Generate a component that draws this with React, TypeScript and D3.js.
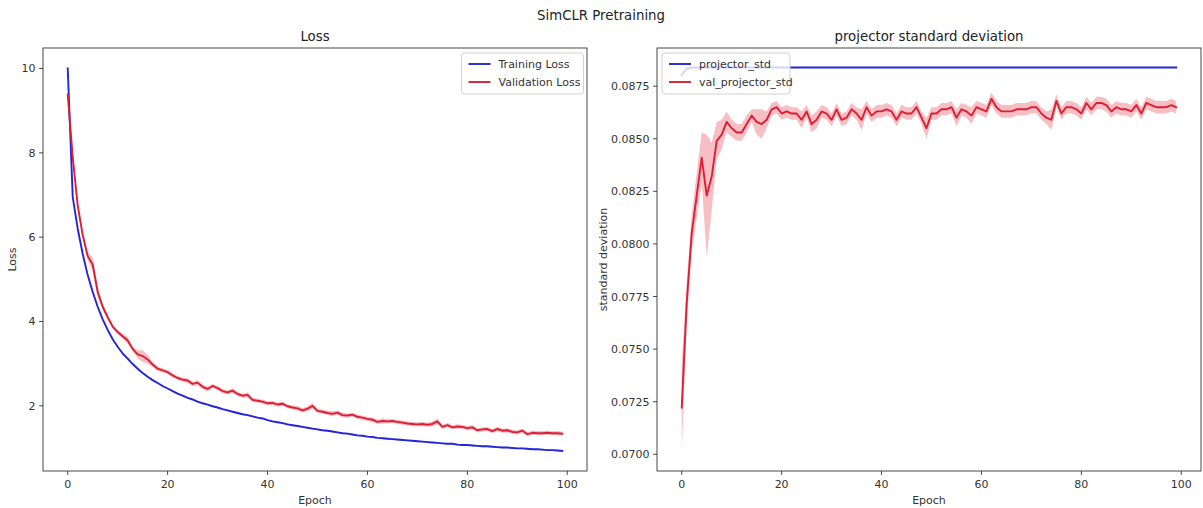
import React from "react";
import * as d3 from "d3";

const epochs: number[] = Array.from({ length: 100 }, (_, i) => i);

const trainLoss: number[] = [
  10.0, 6.95, 6.2, 5.6, 5.1, 4.7, 4.35, 4.05, 3.8, 3.58,
  3.4, 3.24, 3.12, 2.99, 2.88, 2.78, 2.69, 2.61, 2.54, 2.47,
  2.41, 2.35, 2.29, 2.24, 2.19, 2.15, 2.1, 2.06, 2.03, 1.99,
  1.96, 1.92, 1.89, 1.86, 1.83, 1.8, 1.78, 1.75, 1.72, 1.7,
  1.66, 1.63, 1.61, 1.59, 1.56, 1.54, 1.52, 1.5, 1.48, 1.46,
  1.44, 1.42, 1.41, 1.39, 1.37, 1.35, 1.34, 1.32, 1.3, 1.29,
  1.27, 1.26, 1.24, 1.23, 1.22, 1.21, 1.2, 1.19, 1.18, 1.17,
  1.16, 1.15, 1.14, 1.13, 1.12, 1.11, 1.1, 1.1, 1.08, 1.07,
  1.07, 1.06, 1.05, 1.04, 1.04, 1.03, 1.02, 1.01, 1.01, 1.0,
  0.99, 0.99, 0.98, 0.97, 0.97, 0.96, 0.95, 0.95, 0.94, 0.93,
];

const trainLossStd: number[] = [
  0.03, 0.03, 0.03, 0.02, 0.02, 0.02, 0.02, 0.02, 0.02, 0.02,
  0.02, 0.02, 0.02, 0.02, 0.02, 0.02, 0.02, 0.02, 0.02, 0.02,
  0.02, 0.02, 0.02, 0.02, 0.02, 0.02, 0.02, 0.02, 0.02, 0.02,
  0.02, 0.02, 0.02, 0.02, 0.02, 0.02, 0.02, 0.02, 0.02, 0.02,
  0.02, 0.02, 0.02, 0.02, 0.02, 0.02, 0.02, 0.02, 0.02, 0.02,
  0.02, 0.02, 0.02, 0.02, 0.02, 0.02, 0.02, 0.02, 0.02, 0.02,
  0.02, 0.02, 0.02, 0.02, 0.02, 0.02, 0.02, 0.02, 0.02, 0.02,
  0.02, 0.02, 0.02, 0.02, 0.02, 0.02, 0.02, 0.02, 0.02, 0.02,
  0.02, 0.02, 0.02, 0.02, 0.02, 0.02, 0.02, 0.02, 0.02, 0.02,
  0.02, 0.02, 0.02, 0.02, 0.02, 0.02, 0.02, 0.02, 0.02, 0.02,
];

const valLoss: number[] = [
  9.38, 7.9, 6.75, 6.05, 5.55, 5.35, 4.7, 4.35, 4.1, 3.88,
  3.75, 3.65, 3.55, 3.35, 3.22, 3.18, 3.1, 2.98, 2.88, 2.84,
  2.8, 2.72, 2.66, 2.62, 2.6, 2.52, 2.55, 2.45, 2.4, 2.47,
  2.42, 2.35, 2.32, 2.36, 2.28, 2.24, 2.26, 2.14, 2.12, 2.1,
  2.06, 2.07, 2.03, 2.05, 1.99, 1.96, 1.94, 1.89, 1.93, 2.0,
  1.88, 1.86, 1.83, 1.81, 1.84, 1.78, 1.77, 1.79, 1.74, 1.72,
  1.69, 1.67, 1.62, 1.64, 1.63, 1.64, 1.62, 1.6, 1.58, 1.57,
  1.56, 1.57, 1.55, 1.57, 1.63, 1.5, 1.54, 1.49, 1.51, 1.5,
  1.47, 1.49, 1.42, 1.44, 1.45, 1.4, 1.45, 1.41, 1.42, 1.38,
  1.37, 1.41, 1.33, 1.36, 1.35, 1.35, 1.36, 1.35, 1.35, 1.34,
];

const valLossStd: number[] = [
  0.08, 0.06, 0.05, 0.06, 0.1, 0.17, 0.13, 0.07, 0.05, 0.05,
  0.05, 0.06, 0.08, 0.06, 0.1, 0.14, 0.11, 0.06, 0.05, 0.05,
  0.05, 0.05, 0.05, 0.05, 0.06, 0.05, 0.06, 0.05, 0.06, 0.05,
  0.05, 0.05, 0.05, 0.06, 0.05, 0.05, 0.06, 0.05, 0.05, 0.05,
  0.05, 0.05, 0.05, 0.05, 0.05, 0.05, 0.06, 0.05, 0.06, 0.07,
  0.05, 0.05, 0.05, 0.06, 0.05, 0.06, 0.05, 0.05, 0.05, 0.05,
  0.05, 0.06, 0.05, 0.06, 0.05, 0.05, 0.05, 0.05, 0.05, 0.05,
  0.05, 0.05, 0.05, 0.06, 0.07, 0.05, 0.05, 0.05, 0.05, 0.05,
  0.05, 0.06, 0.05, 0.05, 0.05, 0.05, 0.06, 0.05, 0.05, 0.05,
  0.05, 0.05, 0.05, 0.05, 0.05, 0.05, 0.05, 0.05, 0.05, 0.05,
];

const projStd: number[] = [
  0.08802, 0.08834, 0.08838, 0.08839, 0.08839, 0.08839, 0.08839, 0.08839, 0.08839, 0.08839,
  0.08839, 0.08839, 0.08839, 0.08839, 0.08839, 0.08839, 0.08839, 0.08839, 0.08839, 0.08839,
  0.08839, 0.08839, 0.08839, 0.08839, 0.08839, 0.08839, 0.08839, 0.08839, 0.08839, 0.08839,
  0.08839, 0.08839, 0.08839, 0.08839, 0.08839, 0.08839, 0.08839, 0.08839, 0.08839, 0.08839,
  0.08839, 0.08839, 0.08839, 0.08839, 0.08839, 0.08839, 0.08839, 0.08839, 0.08839, 0.08839,
  0.08839, 0.08839, 0.08839, 0.08839, 0.08839, 0.08839, 0.08839, 0.08839, 0.08839, 0.08839,
  0.08839, 0.08839, 0.08839, 0.08839, 0.08839, 0.08839, 0.08839, 0.08839, 0.08839, 0.08839,
  0.08839, 0.08839, 0.08839, 0.08839, 0.08839, 0.08839, 0.08839, 0.08839, 0.08839, 0.08839,
  0.08839, 0.08839, 0.08839, 0.08839, 0.08839, 0.08839, 0.08839, 0.08839, 0.08839, 0.08839,
  0.08839, 0.08839, 0.08839, 0.08839, 0.08839, 0.08839, 0.08839, 0.08839, 0.08839, 0.08839,
];

const projStdStd: number[] = [
  0.00001, 0.00001, 0.00001, 0.00001, 0.00001, 0.00001, 0.00001, 0.00001, 0.00001, 0.00001,
  0.00001, 0.00001, 0.00001, 0.00001, 0.00001, 0.00001, 0.00001, 0.00001, 0.00001, 0.00001,
  0.00001, 0.00001, 0.00001, 0.00001, 0.00001, 0.00001, 0.00001, 0.00001, 0.00001, 0.00001,
  0.00001, 0.00001, 0.00001, 0.00001, 0.00001, 0.00001, 0.00001, 0.00001, 0.00001, 0.00001,
  0.00001, 0.00001, 0.00001, 0.00001, 0.00001, 0.00001, 0.00001, 0.00001, 0.00001, 0.00001,
  0.00001, 0.00001, 0.00001, 0.00001, 0.00001, 0.00001, 0.00001, 0.00001, 0.00001, 0.00001,
  0.00001, 0.00001, 0.00001, 0.00001, 0.00001, 0.00001, 0.00001, 0.00001, 0.00001, 0.00001,
  0.00001, 0.00001, 0.00001, 0.00001, 0.00001, 0.00001, 0.00001, 0.00001, 0.00001, 0.00001,
  0.00001, 0.00001, 0.00001, 0.00001, 0.00001, 0.00001, 0.00001, 0.00001, 0.00001, 0.00001,
  0.00001, 0.00001, 0.00001, 0.00001, 0.00001, 0.00001, 0.00001, 0.00001, 0.00001, 0.00001,
];

const valProjStd: number[] = [
  0.07222, 0.0772, 0.0805, 0.0823, 0.0841, 0.0823, 0.0832, 0.0849, 0.0852, 0.0858,
  0.0855, 0.0853, 0.0853, 0.0857, 0.0861, 0.0858, 0.0857, 0.0859, 0.0864, 0.0865,
  0.0862, 0.0863, 0.0862, 0.0862, 0.0859, 0.0863, 0.0857, 0.0859, 0.0863, 0.0862,
  0.0859, 0.0864, 0.0859, 0.086, 0.0864, 0.0862, 0.0859, 0.0865, 0.0861, 0.0863,
  0.0863, 0.0864, 0.0863, 0.0859, 0.0863, 0.0862, 0.0862, 0.0865, 0.086, 0.0855,
  0.0862, 0.0862, 0.0864, 0.0864, 0.0865, 0.086, 0.0864, 0.0863, 0.0861, 0.0865,
  0.0864, 0.0863, 0.0869, 0.0865, 0.0863, 0.0863, 0.0863, 0.0864, 0.0864, 0.0864,
  0.0865, 0.0865, 0.0862, 0.086, 0.0859, 0.0868, 0.0862, 0.0865, 0.0865, 0.0864,
  0.0862, 0.0867, 0.0864, 0.0867, 0.0867, 0.0866, 0.0863, 0.0865, 0.0864, 0.0864,
  0.0863, 0.0866, 0.0862, 0.0867, 0.0866, 0.0865, 0.0865, 0.0865, 0.0866, 0.0865,
];

const valProjStdStd: number[] = [
  0.0021, 0.001, 0.0009, 0.0011, 0.0012, 0.0029, 0.0016, 0.0009, 0.0007, 0.0005,
  0.0004, 0.0004, 0.0004, 0.0004, 0.0003, 0.0006, 0.0007, 0.0004, 0.0003, 0.0003,
  0.0003, 0.0003, 0.0003, 0.0003, 0.0004, 0.0003, 0.0004, 0.0004, 0.0003, 0.0003,
  0.0003, 0.0003, 0.0003, 0.0003, 0.0003, 0.0003, 0.0005, 0.0003, 0.0003, 0.0003,
  0.0003, 0.0003, 0.0003, 0.0003, 0.0003, 0.0003, 0.0003, 0.0003, 0.0003, 0.0005,
  0.0003, 0.0003, 0.0003, 0.0003, 0.0003, 0.0004, 0.0003, 0.0003, 0.0004, 0.0003,
  0.0003, 0.0003, 0.0003, 0.0003, 0.0003, 0.0003, 0.0003, 0.0003, 0.0003, 0.0003,
  0.0003, 0.0003, 0.0003, 0.0003, 0.0005, 0.0003, 0.0003, 0.0003, 0.0003, 0.0003,
  0.0003, 0.0003, 0.0003, 0.0003, 0.0003, 0.0003, 0.0003, 0.0003, 0.0003, 0.0003,
  0.0003, 0.0003, 0.0003, 0.0003, 0.0003, 0.0003, 0.0003, 0.0003, 0.0003, 0.0003,
];

const xTicks: number[] = [0, 20, 40, 60, 80, 100];
const lossTicks: number[] = [2, 4, 6, 8, 10];
const stdTicks: number[] = [0.07, 0.0725, 0.075, 0.0775, 0.08, 0.0825, 0.085, 0.0875];

const W = 1203;
const H = 508;
const BLUE = "#2424dd";
const RED = "#dc1f35";
const FILL = "#f08a94";
const FONT = "DejaVu Sans, sans-serif";
const TXT = "#333";

type Series = { values: number[]; std: number[]; color: string; label: string };

function withMargin(lo: number, hi: number): [number, number] {
  const m = (hi - lo) * 0.05;
  return [lo - m, hi + m];
}

function Panel(props: {
  left: number; right: number; top: number; bottom: number;
  title: string; ylabel: string; ylabelX: number;
  series: Series[]; yTicks: number[]; yFmt: (v: number) => string;
  legendSide: "left" | "right";
}) {
  const { left, right, top, bottom, series, yTicks, yFmt } = props;
  const x = d3.scaleLinear().domain(withMargin(0, 99)).range([left, right]);
  let lo = Infinity, hi = -Infinity;
  series.forEach((s) => s.values.forEach((v, i) => {
    lo = Math.min(lo, v - s.std[i]);
    hi = Math.max(hi, v + s.std[i]);
  }));
  const y = d3.scaleLinear().domain(withMargin(lo, hi)).range([bottom, top]);
  const line = d3.line<number>().x((_, i) => x(epochs[i])).y((d) => y(d));
  const legendW = props.legendSide === "right" ? 122 : 128;
  const lx = props.legendSide === "right" ? right - 3.5 - legendW : left + 5;
  const ly = top + 5;
  return (
    <g>
      <defs>
        <clipPath id={"clip" + left}>
          <rect x={left} y={top} width={right - left} height={bottom - top} />
        </clipPath>
      </defs>
      <g clipPath={`url(#clip${left})`}>
        {series.map((s, k) => {
          const area = d3.area<number>()
            .x((_, i) => x(epochs[i]))
            .y0((d, i) => y(d - s.std[i]))
            .y1((d, i) => y(d + s.std[i]));
          return (
            <path key={"a" + k} d={area(s.values) || ""}
              fill={s.color === RED ? FILL : "#8a8af0"} opacity={s.color === RED ? 0.55 : 0.35} stroke="none" />
          );
        })}
        {series.map((s, k) => (
          <path key={"l" + k} d={line(s.values) || ""} fill="none" stroke={s.color}
            strokeWidth={1.9} strokeLinejoin="round" strokeLinecap="square" />
        ))}
      </g>
      <rect x={left} y={top} width={right - left} height={bottom - top} fill="none" stroke="#333" strokeWidth={0.9} />
      {xTicks.map((t) => (
        <g key={"x" + t}>
          <line x1={x(t)} x2={x(t)} y1={bottom} y2={bottom + 3.9} stroke="#333" strokeWidth={0.9} />
          <text x={x(t)} y={bottom + 17} textAnchor="middle" fontSize={11} fontFamily={FONT} fill={TXT}>{t}</text>
        </g>
      ))}
      {yTicks.map((t) => (
        <g key={"y" + t}>
          <line x1={left - 3.9} x2={left} y1={y(t)} y2={y(t)} stroke="#333" strokeWidth={0.9} />
          <text x={left - 7.5} y={y(t) + 4} textAnchor="end" fontSize={11} fontFamily={FONT} fill={TXT}>{yFmt(t)}</text>
        </g>
      ))}
      <text x={(left + right) / 2} y={bottom + 33} textAnchor="middle" fontSize={11} fontFamily={FONT} fill={TXT}>Epoch</text>
      <text transform={`translate(${props.ylabelX},${(top + bottom) / 2}) rotate(-90)`} textAnchor="middle"
        fontSize={11} fontFamily={FONT} fill={TXT}>{props.ylabel}</text>
      <text x={(left + right) / 2} y={top - 7} textAnchor="middle" fontSize={13.3} fontFamily={FONT} fill="#222">{props.title}</text>
      <g>
        <rect x={lx} y={ly} width={legendW} height={41} rx={3} fill="#fff" fillOpacity={0.8} stroke="#ccc" strokeWidth={0.9} />
        {series.map((s, k) => (
          <g key={"lg" + k}>
            <line x1={lx + 7} x2={lx + 29} y1={ly + 11 + k * 18} y2={ly + 11 + k * 18} stroke={s.color} strokeWidth={1.9} />
            <text x={lx + 37} y={ly + 15 + k * 18} fontSize={11} fontFamily={FONT} fill={TXT}>{s.label}</text>
          </g>
        ))}
      </g>
    </g>
  );
}

export default function App() {
  return (
    <svg width={W} height={H} style={{ position: "absolute", left: 0, top: 0, background: "#fff" }}>
      <rect x={0} y={0} width={W} height={H} fill="#fff" />
      <text x={601} y={20} textAnchor="middle" fontSize={13.3} fontFamily={FONT} fill="#222">SimCLR Pretraining</text>
      <Panel left={43} right={587} top={48} bottom={471} title="Loss" ylabel="Loss" ylabelX={16}
        series={[
          { values: trainLoss, std: trainLossStd, color: BLUE, label: "Training Loss" },
          { values: valLoss, std: valLossStd, color: RED, label: "Validation Loss" },
        ]}
        yTicks={lossTicks} yFmt={(v) => String(v)} legendSide="right" />
      <Panel left={657} right={1201} top={48} bottom={471} title="projector standard deviation"
        ylabel="standard deviation" ylabelX={607}
        series={[
          { values: projStd, std: projStdStd, color: BLUE, label: "projector_std" },
          { values: valProjStd, std: valProjStdStd, color: RED, label: "val_projector_std" },
        ]}
        yTicks={stdTicks} yFmt={(v) => v.toFixed(4)} legendSide="left" />
    </svg>
  );
}
